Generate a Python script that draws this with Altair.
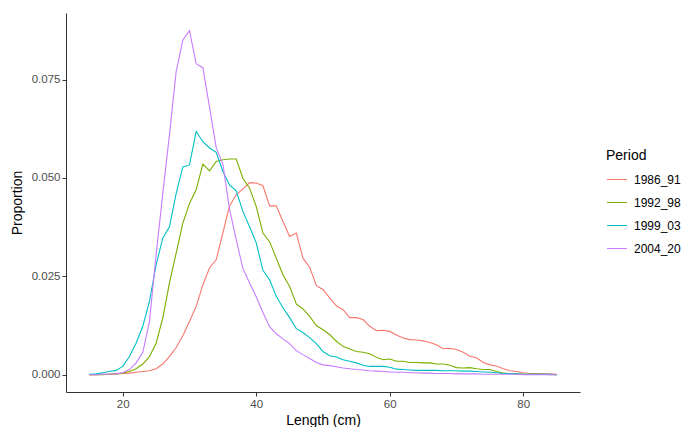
import altair as alt
import pandas as pd

lengths = list(range(15, 86))
periods = ["1986_91", "1992_98", "1999_03", "2004_20"]
colors = ["#F8766D", "#7CAE00", "#00BFC4", "#C77CFF"]

p1986_91 = [0, 0, 0.0001, 0.0001, 0.0002, 0.0003, 0.0004, 0.0006, 0.0008, 0.001,
            0.0015, 0.0027, 0.0046, 0.0069, 0.0099, 0.0135, 0.0173, 0.0228, 0.0271, 0.0292,
            0.036, 0.0429, 0.0457, 0.0472, 0.0488, 0.0487, 0.048, 0.0429, 0.0429, 0.0389,
            0.0351, 0.036, 0.0296, 0.0273, 0.0227, 0.0216, 0.0195, 0.0175, 0.0165, 0.0145,
            0.0145, 0.014, 0.0123, 0.0112, 0.0113, 0.011, 0.0101, 0.0093, 0.0089, 0.0088,
            0.0086, 0.0082, 0.0076, 0.0066, 0.0067, 0.0064, 0.0057, 0.0047, 0.0043, 0.0031,
            0.0025, 0.0022, 0.0015, 0.001, 0.0008, 0.0005, 0.0003, 0.0003, 0.0002, 0.0002,
            0.0001]
p1992_98 = [0, 0, 0, 0.0001, 0.0002, 0.0004, 0.0008, 0.0015, 0.0027, 0.0046,
            0.008, 0.0144, 0.0233, 0.0309, 0.0385, 0.0435, 0.047, 0.0535, 0.0518, 0.0542,
            0.0546, 0.0548, 0.0548, 0.0499, 0.0474, 0.0427, 0.036, 0.0338, 0.0296, 0.0254,
            0.0224, 0.018, 0.0167, 0.0148, 0.0125, 0.0114, 0.0102, 0.0085, 0.0072, 0.0065,
            0.0059, 0.0057, 0.0053, 0.0044, 0.0038, 0.004, 0.0034, 0.0034, 0.0031, 0.0031,
            0.003, 0.003, 0.0027, 0.0027, 0.0024, 0.0018, 0.0017, 0.0018, 0.0015, 0.0013,
            0.0013, 0.0008, 0.0004, 0.0003, 0.0002, 0.0001, 0.0001, 0.0001, 0.0001, 0,
            0]
p1999_03 = [0.0001, 0.0002, 0.0005, 0.0008, 0.0011, 0.0021, 0.0046, 0.008, 0.0123, 0.0186,
            0.0279, 0.0347, 0.0376, 0.046, 0.0528, 0.0533, 0.0618, 0.0592, 0.0576, 0.0565,
            0.0517, 0.0482, 0.0467, 0.0415, 0.0376, 0.0335, 0.0265, 0.0241, 0.0199, 0.017,
            0.0145, 0.0117, 0.0107, 0.0094, 0.0079, 0.0059, 0.0048, 0.0045, 0.0038, 0.0034,
            0.003, 0.0024, 0.0021, 0.0021, 0.0021, 0.0019, 0.0014, 0.0013, 0.0012, 0.0011,
            0.0011, 0.0011, 0.0011, 0.001, 0.001, 0.001, 0.0009, 0.0009, 0.0008, 0.0007,
            0.0006, 0.0005, 0.0003, 0.0003, 0.0002, 0.0001, 0.0001, 0.0001, 0.0001, 0.0001,
            0]
p2004_20 = [0, 0, 0.0001, 0.0001, 0.0002, 0.0005, 0.0013, 0.003, 0.0056, 0.0135,
            0.0305, 0.046, 0.061, 0.077, 0.085, 0.0874, 0.079, 0.078, 0.068, 0.0577,
            0.0535, 0.042, 0.0343, 0.027, 0.0233, 0.0198, 0.0158, 0.0122, 0.0104, 0.0091,
            0.0079, 0.0061, 0.0051, 0.0041, 0.0031, 0.0025, 0.0023, 0.002, 0.0017, 0.0015,
            0.0013, 0.0012, 0.001, 0.0009, 0.0008, 0.0007, 0.0006, 0.0006, 0.0005, 0.0005,
            0.0004, 0.0004, 0.0003, 0.0003, 0.0003, 0.0002, 0.0002, 0.0002, 0.0002, 0.0001,
            0.0001, 0.0001, 0.0001, 0.0001, 0.0001, 0, 0, 0, 0, 0,
            0]

series = [p1986_91, p1992_98, p1999_03, p2004_20]
rows = []
for per, vals in zip(periods, series):
    for L, v in zip(lengths, vals):
        rows.append({"Length": L, "Proportion": v, "Period": per})
df = pd.DataFrame(rows)

FONT = "Liberation Sans"

chart = alt.Chart(df).mark_line(strokeWidth=1.1, clip=True).encode(
    x=alt.X("Length:Q",
            scale=alt.Scale(domain=[11.5, 88.5], nice=False, zero=False),
            axis=alt.Axis(title="Length (cm)", values=[20, 40, 60, 80], grid=False,
                          tickSize=4, tickColor="#333333", domainColor="#333333",
                          labelColor="#4D4D4D", labelFontSize=11.5, labelPadding=2,
                          titleFontSize=14, titleFontWeight="normal", titleColor="#000000",
                          titlePadding=4, labelFont=FONT, titleFont=FONT)),
    y=alt.Y("Proportion:Q",
            scale=alt.Scale(domain=[-0.0044, 0.0919], nice=False, zero=False),
            axis=alt.Axis(title="Proportion", values=[0, 0.025, 0.05, 0.075], format=".3f",
                          grid=False, tickSize=4, tickColor="#333333", domainColor="#333333",
                          labelColor="#4D4D4D", labelFontSize=11.5, labelPadding=2,
                          titleFontSize=14, titleFontWeight="normal", titleColor="#000000",
                          titleX=-42, labelFont=FONT, titleFont=FONT)),
    color=alt.Color("Period:N",
                    scale=alt.Scale(domain=periods, range=colors),
                    legend=alt.Legend(title="Period", orient="none", legendX=540, legendY=136,
                                      symbolType="stroke", symbolSize=400, symbolStrokeWidth=1.2,
                                      titleFontSize=14, titleFontWeight="normal",
                                      titleColor="#000000", labelFontSize=12,
                                      labelColor="#000000", titlePadding=8, rowPadding=6,
                                      clipHeight=17, labelOffset=6,
                                      labelFont=FONT, titleFont=FONT)),
).properties(
    width=514, height=379,
    background="white",
    autosize=alt.AutoSizeParams(type="none"),
    padding={"left": 66, "top": 13, "right": 103, "bottom": 35},
).configure_view(strokeWidth=0, stroke="transparent")

chart.save("out.html", embed_options={"renderer": "svg", "actions": False})
